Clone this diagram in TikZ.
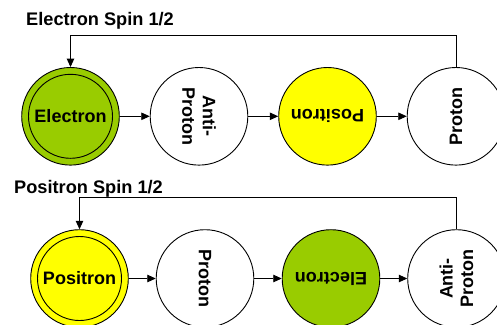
\documentclass[tikz,border=0pt]{standalone}
\usepackage{fontspec}
\setmainfont{Liberation Sans}
\usetikzlibrary{arrows.meta}
\definecolor{elgreen}{RGB}{153,204,0}
\definecolor{poyellow}{RGB}{255,255,0}
\tikzset{
  particle/.style={circle, draw=black, line width=0.9pt, minimum size=97.6pt, inner sep=0pt},
  innerring/.style={circle, draw=black, line width=0.9pt, minimum size=84pt, inner sep=0pt},
  ptext/.style={font=\fontsize{18}{20.5}\selectfont\bfseries, align=center, inner sep=0pt},
  title/.style={font=\fontsize{18.2}{20}\selectfont\bfseries, anchor=base west, inner sep=0pt},
  flow/.style={line width=0.9pt, -{Triangle[length=8.5pt,width=7.5pt]}},
}
\begin{document}
\begin{tikzpicture}[x=1pt,y=-1pt]
\useasboundingbox (0,0) rectangle (497,324);
\clip (0,0) rectangle (497,324);
% ---- top row ----
\node[title] (t1) at (26,25) {Electron Spin 1/2};
\node[particle, fill=elgreen] (a1) at (70.5,116.3) {};
\node[innerring] (a1i) at (a1.center) {};
\node[ptext] (a1t) at (a1.center) {Electron};
\node[particle] (a2) at (199,116.3) {};
\node[ptext, rotate=-90] (a2t) at (a2.center) {Anti-\\Proton};
\node[particle, fill=poyellow] (a3) at (327.5,116.3) {};
\node[ptext, rotate=180] (a3t) at (a3.center) {Positron};
\node[particle] (a4) at (456,116.3) {};
\node[ptext, rotate=90] (a4t) at (a4.center) {Proton};
\draw[flow] (a1) -- (a2);
\draw[flow] (a2) -- (a3);
\draw[flow] (a3) -- (a4);
\coordinate (ca) at (70.5,35);
\draw[flow] (a4.north) |- (ca) -- (a1.north);
% ---- bottom row ----
\node[title] (t2) at (14,193) {Positron Spin 1/2};
\node[particle, fill=poyellow] (b1) at (79.5,278.5) {};
\node[innerring] (b1i) at (b1.center) {};
\node[ptext] (b1t) at (b1.center) {Positron};
\node[particle] (b2) at (205,278.5) {};
\node[ptext, rotate=-90] (b2t) at (b2.center) {Proton};
\node[particle, fill=elgreen] (b3) at (331,278.5) {};
\node[ptext, rotate=180] (b3t) at (b3.center) {Electron};
\node[particle] (b4) at (456.5,278.5) {};
\node[ptext, rotate=90] (b4t) at (b4.center) {Anti-\\Proton};
\draw[flow] (b1) -- (b2);
\draw[flow] (b2) -- (b3);
\draw[flow] (b3) -- (b4);
\coordinate (cb) at (79.5,197.3);
\draw[flow] (b4.north) |- (cb) -- (b1.north);
\end{tikzpicture}
\end{document}
